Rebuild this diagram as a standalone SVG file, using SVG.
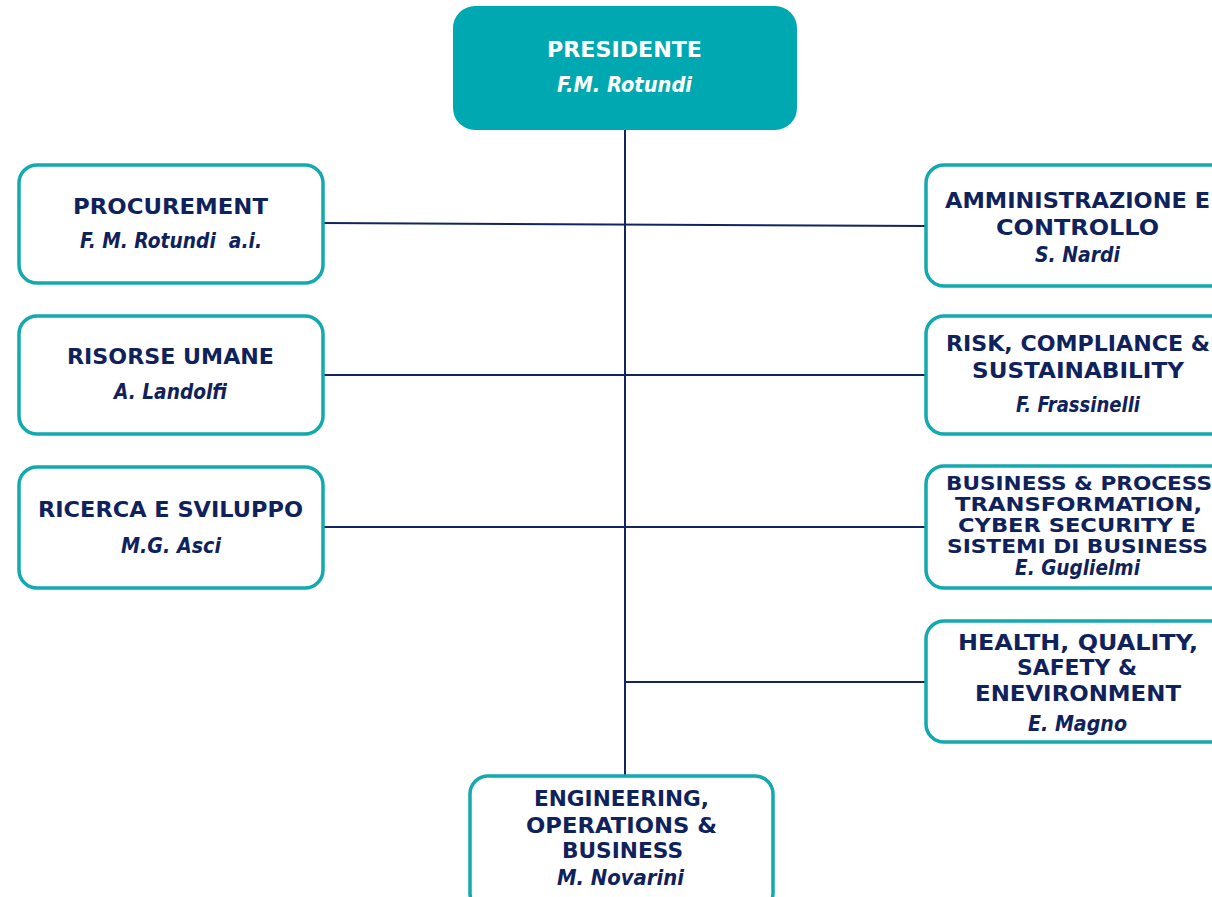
<svg xmlns="http://www.w3.org/2000/svg" width="1212" height="897" viewBox="0 0 1212 897">
<style>
.box{fill:#fff;stroke:#12A9AF;stroke-width:3.5}
.t{font-family:"DejaVu Sans",sans-serif;font-weight:700;font-size:22px;fill:#10225C;text-anchor:middle}
.s{font-size:19.5px}
.n{font-family:"DejaVu Sans",sans-serif;font-weight:700;font-style:italic;font-size:20.5px;fill:#10225C;text-anchor:middle}
.w{fill:#fff}
.c{stroke:#13245E;stroke-width:2;fill:none}
</style>
<rect width="1212" height="897" fill="#fff"/>
<g id="connectors">
<line class="c" x1="625" y1="130" x2="625" y2="777"/>
<line class="c" x1="323" y1="223" x2="926" y2="226"/>
<line class="c" x1="323" y1="375" x2="926" y2="375"/>
<line class="c" x1="323" y1="527" x2="926" y2="527"/>
<line class="c" x1="625" y1="682" x2="926" y2="682"/>
</g>
<g id="presidente">
<rect x="453" y="6" width="344" height="124" rx="22" fill="#00A9B1"/>
<text class="t w" x="624.5" y="57" textLength="155" lengthAdjust="spacingAndGlyphs">PRESIDENTE</text>
<text class="n w" x="624.5" y="92" textLength="135" lengthAdjust="spacingAndGlyphs">F.M. Rotundi</text>
</g>
<g id="procurement">
<rect class="box" x="19" y="165" width="304" height="118" rx="18"/>
<text class="t" x="170.5" y="214" textLength="195" lengthAdjust="spacingAndGlyphs">PROCUREMENT</text>
<text class="n" x="171" y="248" textLength="182" lengthAdjust="spacingAndGlyphs" xml:space="preserve">F. M. Rotundi  a.i.</text>
</g>
<g id="risorse-umane">
<rect class="box" x="19" y="316" width="304" height="118" rx="18"/>
<text class="t" x="170.5" y="364" textLength="207" lengthAdjust="spacingAndGlyphs">RISORSE UMANE</text>
<text class="n" x="170.5" y="399" textLength="113" lengthAdjust="spacingAndGlyphs">A. Landolfi</text>
</g>
<g id="ricerca-sviluppo">
<rect class="box" x="19" y="467" width="304" height="121" rx="18"/>
<text class="t" x="170.5" y="517" textLength="265" lengthAdjust="spacingAndGlyphs">RICERCA E SVILUPPO</text>
<text class="n" x="171" y="553" textLength="100" lengthAdjust="spacingAndGlyphs">M.G. Asci</text>
</g>
<g id="amministrazione">
<rect class="box" x="926" y="165" width="310" height="121" rx="18"/>
<text class="t" x="1077.5" y="208" textLength="265" lengthAdjust="spacingAndGlyphs">AMMINISTRAZIONE E</text>
<text class="t" x="1077.5" y="235" textLength="163" lengthAdjust="spacingAndGlyphs">CONTROLLO</text>
<text class="n" x="1077.5" y="262" textLength="85" lengthAdjust="spacingAndGlyphs">S. Nardi</text>
</g>
<g id="risk">
<rect class="box" x="926" y="316" width="310" height="118" rx="18"/>
<text class="t" x="1078" y="351" textLength="264" lengthAdjust="spacingAndGlyphs">RISK, COMPLIANCE &amp;</text>
<text class="t" x="1078" y="378" textLength="212" lengthAdjust="spacingAndGlyphs">SUSTAINABILITY</text>
<text class="n" x="1078" y="412" textLength="124" lengthAdjust="spacingAndGlyphs">F. Frassinelli</text>
</g>
<g id="business">
<rect class="box" x="926" y="466" width="310" height="122" rx="18"/>
<text class="t s" x="1079" y="490" textLength="266" lengthAdjust="spacingAndGlyphs">BUSINESS &amp; PROCESS</text>
<text class="t s" x="1078.5" y="511" textLength="247" lengthAdjust="spacingAndGlyphs">TRANSFORMATION,</text>
<text class="t s" x="1077" y="532" textLength="238" lengthAdjust="spacingAndGlyphs">CYBER SECURITY E</text>
<text class="t s" x="1077.5" y="553" textLength="261" lengthAdjust="spacingAndGlyphs">SISTEMI DI BUSINESS</text>
<text class="n" x="1077.5" y="575" textLength="125" lengthAdjust="spacingAndGlyphs">E. Guglielmi</text>
</g>
<g id="health">
<rect class="box" x="926" y="621" width="310" height="121" rx="18"/>
<text class="t" x="1078" y="650" textLength="240" lengthAdjust="spacingAndGlyphs">HEALTH, QUALITY,</text>
<text class="t" x="1077" y="675" textLength="120" lengthAdjust="spacingAndGlyphs">SAFETY &amp;</text>
<text class="t" x="1078" y="701" textLength="206" lengthAdjust="spacingAndGlyphs">ENEVIRONMENT</text>
<text class="n" x="1077.5" y="731" textLength="99" lengthAdjust="spacingAndGlyphs">E. Magno</text>
</g>
<g id="engineering">
<rect class="box" x="470" y="776" width="303" height="135" rx="18"/>
<text class="t" x="621.5" y="806" textLength="175" lengthAdjust="spacingAndGlyphs">ENGINEERING,</text>
<text class="t" x="621.5" y="833" textLength="191" lengthAdjust="spacingAndGlyphs">OPERATIONS &amp;</text>
<text class="t" x="622.5" y="858" textLength="121" lengthAdjust="spacingAndGlyphs">BUSINESS</text>
<text class="n" x="620.5" y="885" textLength="127" lengthAdjust="spacingAndGlyphs">M. Novarini</text>
</g>
</svg>
